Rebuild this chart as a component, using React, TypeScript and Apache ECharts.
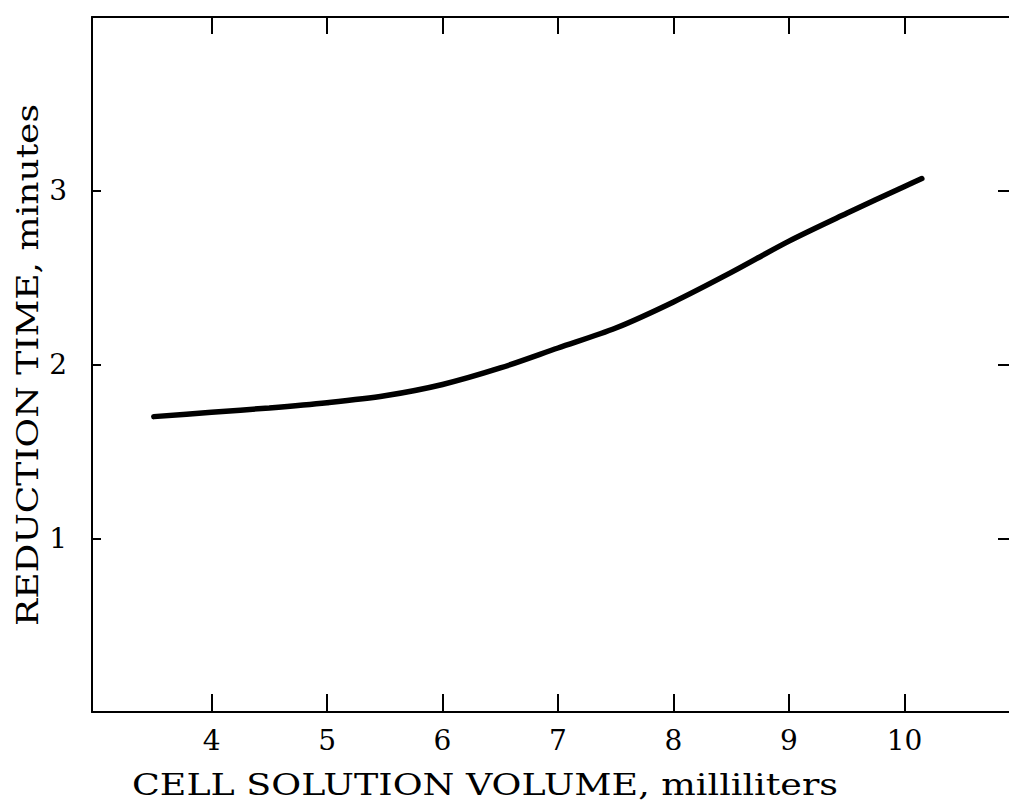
import React, { useEffect, useRef } from "react";
import * as echarts from "echarts";

// Cell solution volume (mL) vs reduction time (minutes)
const volume = [3.5, 4, 4.5, 5, 5.5, 6, 6.5, 7, 7.5, 8, 8.5, 9, 9.5, 10, 10.15];
const reductionTime = [1.7, 1.725, 1.75, 1.78, 1.82, 1.885, 1.98, 2.095, 2.21, 2.36, 2.53, 2.71, 2.87, 3.025, 3.07];
const xTicks = [4, 5, 6, 7, 8, 9, 10];
const yTicks = [1, 2, 3];
const xTitle = "CELL SOLUTION VOLUME, milliliters";
const yTitle = "REDUCTION TIME, minutes";

const FONT = "DejaVu Serif";

export default function App() {
  const ref = useRef<HTMLDivElement>(null);
  useEffect(() => {
    if (!ref.current) return;
    const chart = echarts.init(ref.current, null, { renderer: "svg" });
    const axisLine = { show: true, onZero: false, lineStyle: { color: "#000", width: 2 } };
    const tickStyle = { color: "#000", width: 2 };
    chart.setOption({
      animation: false,
      backgroundColor: "#fff",
      grid: { left: 92, top: 17, width: 928, height: 695, containLabel: false },
      xAxis: [
        {
          type: "value",
          position: "bottom",
          min: 2.965,
          max: 11,
          axisLine,
          axisTick: { show: true, inside: true, length: 18, customValues: xTicks, lineStyle: tickStyle },
          axisLabel: { show: true, customValues: xTicks, color: "#000", fontFamily: FONT, fontSize: 28, margin: 14 },
          splitLine: { show: false },
        },
        {
          type: "value",
          position: "top",
          min: 2.965,
          max: 11,
          axisLine,
          axisTick: { show: true, inside: true, length: 17, customValues: xTicks, lineStyle: tickStyle },
          axisLabel: { show: false },
          splitLine: { show: false },
        },
      ],
      yAxis: [
        {
          type: "value",
          position: "left",
          min: 0,
          max: 4,
          axisLine,
          axisTick: { show: true, inside: true, length: 9, customValues: yTicks, lineStyle: tickStyle },
          axisLabel: { show: true, customValues: yTicks, color: "#000", fontFamily: FONT, fontSize: 28, margin: 25 },
          splitLine: { show: false },
        },
        {
          type: "value",
          position: "right",
          min: 0,
          max: 4,
          axisLine: { show: false, onZero: false },
          axisTick: { show: true, inside: true, length: 22, customValues: yTicks, lineStyle: tickStyle },
          axisLabel: { show: false },
          splitLine: { show: false },
        },
      ],
      series: [
        {
          type: "line",
          xAxisIndex: 0,
          yAxisIndex: 0,
          data: volume.map((v, i) => [v, reductionTime[i]]),
          smooth: 0.3,
          showSymbol: false,
          lineStyle: { color: "#000", width: 5.5, cap: "round" },
        },
      ],
      graphic: [
        {
          type: "text",
          x: 485,
          y: 785,
          scaleX: 1.256,
          style: {
            text: xTitle,
            font: `29px "${FONT}"`,
            fill: "#000",
            textAlign: "center",
            textVerticalAlign: "middle",
          },
        },
        {
          type: "text",
          x: 28,
          y: 365,
          rotation: Math.PI / 2,
          scaleX: 1.243,
          style: {
            text: yTitle,
            font: `29px "${FONT}"`,
            fill: "#000",
            textAlign: "center",
            textVerticalAlign: "middle",
          },
        },
      ],
    });
    return () => chart.dispose();
  }, []);
  return (
    <div style={{ position: "absolute", left: 0, top: 0, width: 1009, height: 801, overflow: "hidden" }}>
      <div ref={ref} style={{ width: 1024, height: 801 }} />
    </div>
  );
}
